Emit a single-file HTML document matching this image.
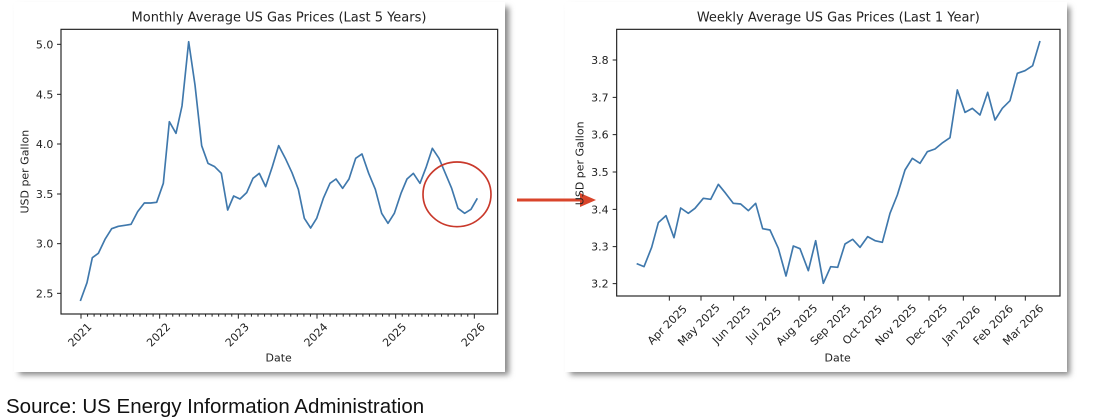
<!DOCTYPE html>
<html><head><meta charset="utf-8"><style>
html,body{margin:0;padding:0;background:#fff;width:1104px;height:419px;overflow:hidden}
svg{display:block}
text{font-family:"DejaVu Sans","Liberation Sans",sans-serif;fill:#222}
</style></head><body>
<svg width="1104" height="419" viewBox="0 0 1104 419" xmlns="http://www.w3.org/2000/svg">
<defs>
<filter id="sh" x="-5%" y="-5%" width="115%" height="115%"><feGaussianBlur stdDeviation="3"/></filter>
</defs>
<rect x="19" y="7" width="490" height="368" fill="#888" filter="url(#sh)"/>
<rect x="14" y="2" width="491" height="370" fill="#fff"/>
<rect x="570" y="7" width="500" height="368" fill="#888" filter="url(#sh)"/>
<rect x="565" y="2" width="502" height="370" fill="#fff"/>

<g transform="scale(0.33333)">
<text x="837" y="65" font-size="39" text-anchor="middle">Monthly Average US Gas Prices (Last 5 Years)</text>
<rect x="183" y="88" width="1310" height="854" fill="none" stroke="#222" stroke-width="3.5"/>
<g stroke="#222" stroke-width="3">
<line x1="183" y1="133" x2="171" y2="133"/><line x1="183" y1="283" x2="171" y2="283"/>
<line x1="183" y1="432" x2="171" y2="432"/><line x1="183" y1="582" x2="171" y2="582"/>
<line x1="183" y1="731" x2="171" y2="731"/><line x1="183" y1="880" x2="171" y2="880"/>
</g>
<g font-size="33" text-anchor="end">
<text x="160" y="145">5.0</text><text x="160" y="295">4.5</text><text x="160" y="444">4.0</text>
<text x="160" y="594">3.5</text><text x="160" y="743">3.0</text><text x="160" y="892">2.5</text>
</g>
<text transform="translate(85,515) rotate(-90)" font-size="33" text-anchor="middle">USD per Gallon</text>
<g stroke="#222" stroke-width="3">
<path d="M243 942v14M479 942v14M715 942v14M951 942v14M1187 942v14M1423 942v14"/>
<path d="M262.7 942v8M282.3 942v8M302 942v8M321.7 942v8M341.3 942v8M361 942v8M380.7 942v8M400.3 942v8M420 942v8M439.7 942v8M459.3 942v8M498.7 942v8M518.3 942v8M538 942v8M557.7 942v8M577.3 942v8M597 942v8M616.7 942v8M636.3 942v8M656 942v8M675.7 942v8M695.3 942v8M734.7 942v8M754.3 942v8M774 942v8M793.7 942v8M813.3 942v8M833 942v8M852.7 942v8M872.3 942v8M892 942v8M911.7 942v8M931.3 942v8M970.7 942v8M990.3 942v8M1010 942v8M1029.7 942v8M1049.3 942v8M1069 942v8M1088.7 942v8M1108.3 942v8M1128 942v8M1147.7 942v8M1167.3 942v8M1206.7 942v8M1226.3 942v8M1246 942v8M1265.7 942v8M1285.3 942v8M1305 942v8M1324.7 942v8M1344.3 942v8M1364 942v8M1383.7 942v8M1403.3 942v8"/>
</g>
<g font-size="33" text-anchor="middle" dominant-baseline="central">
<text transform="translate(240,1005) rotate(-45)">2021</text>
<text transform="translate(476,1005) rotate(-45)">2022</text>
<text transform="translate(712,1005) rotate(-45)">2023</text>
<text transform="translate(948,1005) rotate(-45)">2024</text>
<text transform="translate(1184,1005) rotate(-45)">2025</text>
<text transform="translate(1420,1005) rotate(-45)">2026</text>
</g>
<text x="836" y="1085" font-size="33" text-anchor="middle">Date</text>
<polyline fill="none" stroke="#3f78ac" stroke-width="5" stroke-linejoin="round" points="241,903 261,848 277,773 295,760 315,718 335,686 355,679 375,676 393,673 413,635 433,609 452,609 470,607 490,550 508,365 528,400 546,318 566,125 585,255 605,437 624,490 644,500 664,520 683,630 701,588 720,597 740,578 759,535 778,520 797,560 817,500 836,437 856,475 876,518 895,568 913,655 932,684 950,655 970,595 990,550 1008,537 1028,565 1047,537 1067,475 1086,462 1106,520 1126,568 1145,640 1164,670 1183,640 1203,580 1221,537 1240,520 1260,550 1279,500 1297,445 1317,475 1336,520 1355,565 1374,625 1394,640 1413,628 1432,595"/>
<ellipse cx="1371" cy="583" rx="102" ry="97" fill="none" stroke="#c9392b" stroke-width="5"/>
</g>

<line x1="517" y1="200" x2="582" y2="200" stroke="#d9452b" stroke-width="3"/>
<polygon points="580,193 596,200 580,207" fill="#d9452b"/>

<g transform="translate(560,0) scale(0.33333)">
<text x="835" y="65" font-size="39" text-anchor="middle">Weekly Average US Gas Prices (Last 1 Year)</text>
<rect x="170" y="88" width="1330" height="800" fill="none" stroke="#222" stroke-width="3.5"/>
<g stroke="#222" stroke-width="3">
<path d="M170 180h-12M170 292h-12M170 404h-12M170 516h-12M170 628h-12M170 740h-12M170 851h-12"/>
<path d="M328 888v14M423 888v14M521 888v14M617 888v14M717 888v14M818 888v14M913 888v14M1014 888v14M1107 888v14M1210 888v14M1306 888v14M1396 888v14"/>
</g>
<g font-size="33" text-anchor="end">
<text x="146" y="192">3.8</text><text x="146" y="304">3.7</text><text x="146" y="416">3.6</text>
<text x="146" y="528">3.5</text><text x="146" y="640">3.4</text><text x="146" y="752">3.3</text><text x="146" y="863">3.2</text>
</g>
<text transform="translate(70,490) rotate(-90)" font-size="33" text-anchor="middle">USD per Gallon</text>
<g font-size="33" text-anchor="middle" dominant-baseline="central">
<text transform="translate(322,975) rotate(-45)">Apr 2025</text>
<text transform="translate(417,975) rotate(-45)">May 2025</text>
<text transform="translate(515,975) rotate(-45)">Jun 2025</text>
<text transform="translate(611,975) rotate(-45)">Jul 2025</text>
<text transform="translate(711,975) rotate(-45)">Aug 2025</text>
<text transform="translate(812,975) rotate(-45)">Sep 2025</text>
<text transform="translate(907,975) rotate(-45)">Oct 2025</text>
<text transform="translate(1008,975) rotate(-45)">Nov 2025</text>
<text transform="translate(1101,975) rotate(-45)">Dec 2025</text>
<text transform="translate(1204,975) rotate(-45)">Jan 2026</text>
<text transform="translate(1300,975) rotate(-45)">Feb 2026</text>
<text transform="translate(1390,975) rotate(-45)">Mar 2026</text>
</g>
<text x="833" y="1085" font-size="33" text-anchor="middle">Date</text>
<polyline fill="none" stroke="#3f78ac" stroke-width="5" stroke-linejoin="round" points="230,791 252,800 275,742 295,668 318,647 342,713 362,624 385,640 405,625 430,595 452,598 475,553 497,580 520,610 542,612 565,632 587,610 608,686 630,690 655,745 678,828 700,738 720,746 745,812 767,722 790,850 812,800 833,802 855,732 878,718 900,742 923,710 945,722 967,727 990,640 1012,585 1035,510 1057,475 1080,490 1102,455 1125,447 1148,428 1170,413 1192,270 1215,337 1237,325 1260,345 1283,277 1305,360 1327,325 1350,302 1372,220 1395,212 1418,197 1440,123"/>
</g>

<text x="6" y="413" font-size="20.5" style="font-family:'Liberation Sans',sans-serif;fill:#111">Source: US Energy Information Administration</text>
</svg>
</body></html>
